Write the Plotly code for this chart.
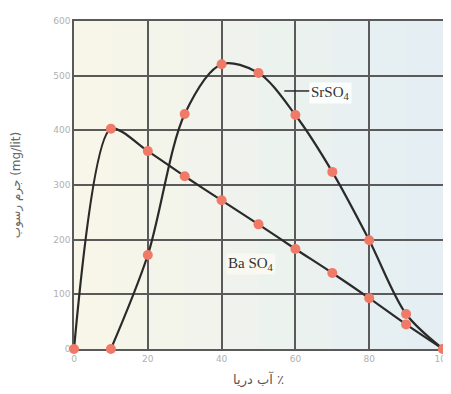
import plotly.graph_objects as go

seawater_pct = [0, 10, 20, 30, 40, 50, 60, 70, 80, 90, 100]
baso4 = [0, 403, 362, 316, 272, 228, 183, 139, 93, 45, 0]
sr_x = [10, 20, 30, 40, 50, 60, 70, 80, 90, 100]
srso4 = [0, 172, 430, 521, 505, 428, 324, 199, 64, 0]

x_ticks = [0, 20, 40, 60, 80, 100]
y_ticks = [0, 100, 200, 300, 400, 500, 600]

line_col = "#2a2a2a"
mark_col = "#f07a68"

fig = go.Figure()

# soft background tint: cream on the left fading to pale blue on the right
c0 = (247, 246, 232)
c1 = (228, 238, 243)
nb = 10
for i in range(nb):
    t = i / (nb - 1)
    col = "rgb(%d,%d,%d)" % tuple(round(a + (b - a) * t) for a, b in zip(c0, c1))
    fig.add_shape(type="rect", xref="x domain", yref="y domain",
                  x0=i / nb, x1=(i + 1) / nb, y0=0, y1=1,
                  fillcolor=col, line=dict(width=0), layer="below")

fig.add_trace(go.Scatter(
    x=seawater_pct, y=baso4, mode="lines+markers",
    line=dict(color=line_col, width=2.2, shape="spline", smoothing=0.75),
    marker=dict(color=mark_col, size=10, line=dict(width=0)),
    cliponaxis=False, showlegend=False, name="BaSO4"))
fig.add_trace(go.Scatter(
    x=sr_x, y=srso4, mode="lines+markers",
    line=dict(color=line_col, width=2.2, shape="spline", smoothing=0.9),
    marker=dict(color=mark_col, size=10, line=dict(width=0)),
    cliponaxis=False, showlegend=False, name="SrSO4"))

fig.add_shape(type="line", x0=57.0, x1=63.8, y0=472, y1=472,
              line=dict(color=line_col, width=1.5))
fig.add_annotation(x=63.8, y=469, text="SrSO<sub>4</sub>", showarrow=False,
                   xanchor="left", yanchor="middle",
                   font=dict(family="Liberation Serif", size=15, color="#333"),
                   bgcolor="rgba(255,255,255,0.85)")
fig.add_annotation(x=41.2, y=155, text="Ba SO<sub>4</sub>", showarrow=False,
                   xanchor="left", yanchor="middle",
                   font=dict(family="Liberation Serif", size=15, color="#333"),
                   bgcolor="rgba(250,250,242,0.85)")

axis_common = dict(showgrid=True, gridcolor="#5a5a5a", gridwidth=1.5,
                   showline=True, linecolor="#5a5a5a", linewidth=1.5, mirror=True,
                   zeroline=False, ticks="", layer="below traces",
                   tickfont=dict(family="DejaVu Sans", size=9, color="#b0b0b0"))

fig.update_xaxes(range=[0, 100], tickvals=x_ticks, **axis_common,
                 title=dict(text="آب دریا ٪", font=dict(family="DejaVu Sans", size=13, color="#555"),
                            standoff=12))
fig.update_yaxes(range=[0, 600], tickvals=y_ticks, **axis_common,
                 title=dict(text="جرم رسوب (mg/lit)", font=dict(family="DejaVu Sans", size=12, color="#666"),
                            standoff=30))

fig.update_layout(
    width=451, height=394,
    margin=dict(l=66, r=7, t=13, b=53),
    paper_bgcolor="white",
    plot_bgcolor="#eef3ee",
)

fig.write_html("out.html")
